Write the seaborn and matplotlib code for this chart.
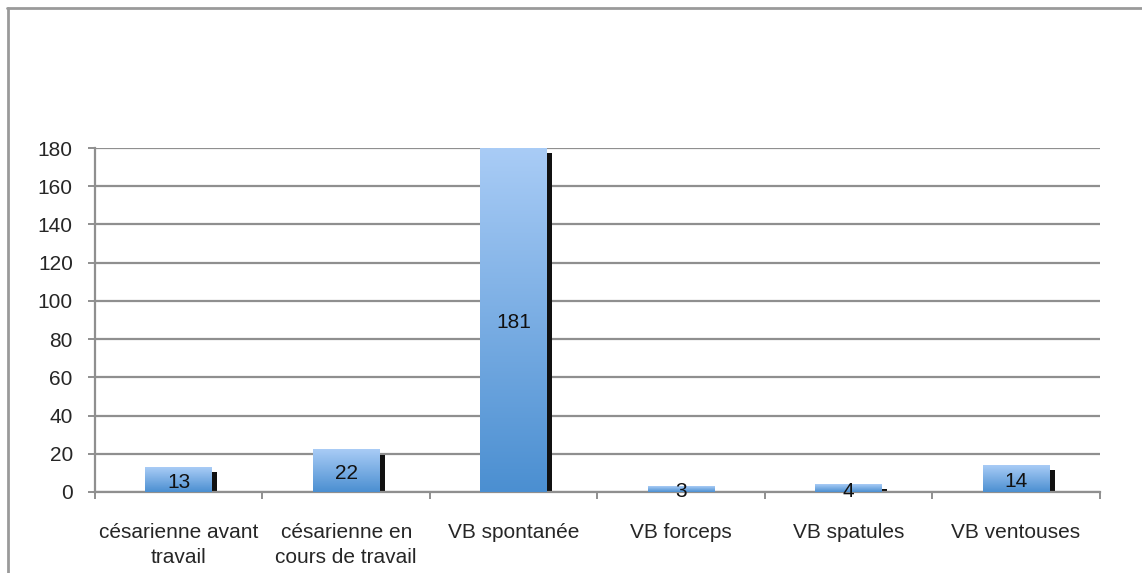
import numpy as np
import pandas as pd
import matplotlib
matplotlib.use("Agg")
import matplotlib.pyplot as plt
import seaborn as sns
from matplotlib.colors import LinearSegmentedColormap
from matplotlib.patches import Rectangle
from matplotlib.lines import Line2D

# data
categories = [
    "césarienne avant\ntravail",
    "césarienne en\ncours de travail",
    "VB spontanée",
    "VB forceps",
    "VB spatules",
    "VB ventouses",
]
counts = [13, 22, 181, 3, 4, 14]
y_ticks = [0, 20, 40, 60, 80, 100, 120, 140, 160, 180]


def main():
    sns.set_style("white")
    plt.rcParams["font.family"] = ["Liberation Sans", "DejaVu Sans"]

    df = pd.DataFrame({"mode": categories, "n": counts})

    fig = plt.figure(figsize=(11.42, 5.73), dpi=100)
    ax = fig.add_axes([0.0832, 0.1414, 0.963 - 0.0832, 0.7417 - 0.1414])

    sns.barplot(data=df, x="mode", y="n", width=0.4, color="#6fa6e0",
                ax=ax, zorder=3, saturation=1)

    ymax = 180
    ax.set_xlim(-0.5, len(categories) - 0.5)
    ax.set_ylim(0, ymax)
    ax.set_yticks(y_ticks)

    # vertical gradient fill + dark shadow on each bar
    cmap = LinearSegmentedColormap.from_list("bar", ["#4b8fd1", "#a9ccf6"])
    grad = np.linspace(0, 1, 256).reshape(-1, 1)
    px_x = (ax.get_xlim()[1] - ax.get_xlim()[0]) / ax.bbox.width
    px_y = ymax / ax.bbox.height
    for patch, val in zip(ax.patches, counts):
        x0 = patch.get_x()
        w = patch.get_width()
        h = min(patch.get_height(), ymax)
        patch.set_facecolor("none")
        patch.set_edgecolor("none")
        ax.imshow(grad, cmap=cmap, origin="lower", aspect="auto",
                  extent=[x0, x0 + w, 0, h], zorder=3)
        shadow = Rectangle((x0 + w, 0), 5 * px_x, max(h - 5 * px_y, 0),
                           facecolor="#111111", edgecolor="none", zorder=2.5)
        ax.add_patch(shadow)
        ax.text(x0 + w / 2, h / 2 - 1.5, str(val), ha="center",
                va="center", fontsize=15, color="#111111", zorder=5)

    ax.set_xlim(-0.5, len(categories) - 0.5)
    ax.set_ylim(0, ymax)

    grid_c = "#8f8f8f"
    ax.yaxis.grid(True, color=grid_c, linewidth=1.6, zorder=1)
    ax.set_axisbelow(True)
    for side in ["top", "right"]:
        ax.spines[side].set_visible(False)
    for side in ["left", "bottom"]:
        ax.spines[side].set_color(grid_c)
        ax.spines[side].set_linewidth(1.6)

    ax.set_xlabel("")
    ax.set_ylabel("")
    for lbl in ax.get_xticklabels():
        lbl.set_linespacing(1.4)
    ax.set_xticks(np.arange(-0.5, len(categories), 1.0), minor=True)
    ax.tick_params(axis="x", which="major", length=0, pad=22, labelsize=15)
    ax.tick_params(axis="x", which="minor", length=5, width=1.4,
                   color=grid_c, direction="out")
    ax.tick_params(axis="y", length=5, width=1.4, color=grid_c,
                   direction="out", pad=11, labelsize=15)
    ax.tick_params(left=True, bottom=True)
    ax.xaxis.set_tick_params(which="minor", bottom=True)

    # outer frame of the original chart (top + left edges)
    border = "#9a9a9a"
    fig.add_artist(Line2D([7 / 1142, 1.0], [1 - 8 / 573, 1 - 8 / 573],
                          transform=fig.transFigure, color=border, lw=2))
    fig.add_artist(Line2D([8 / 1142, 8 / 1142], [0, 1 - 8 / 573],
                          transform=fig.transFigure, color=border, lw=2))

    fig.savefig("out.png", dpi=100, facecolor="white")


if __name__ == "__main__":
    main()
